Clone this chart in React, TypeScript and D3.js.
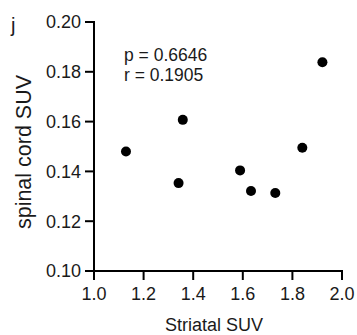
import React from "react";
import * as d3 from "d3";

const striatalSUV = [1.129, 1.341, 1.358, 1.589, 1.633, 1.731, 1.84, 1.921];
const spinalCordSUV = [0.148, 0.1353, 0.1607, 0.1404, 0.1321, 0.1313, 0.1495, 0.1838];
const xTicks = [1.0, 1.2, 1.4, 1.6, 1.8, 2.0];
const yTicks = [0.1, 0.12, 0.14, 0.16, 0.18, 0.2];
const statsLines = ["p = 0.6646", "r = 0.1905"];
const panelLabel = "j";
const xTitle = "Striatal SUV";
const yTitle = "spinal cord SUV";

export default function App() {
  const W = 357, H = 335;
  const left = 94, right = 342, top = 22, bottom = 271;
  const x = d3.scaleLinear().domain([1.0, 2.0]).range([left, right]);
  const y = d3.scaleLinear().domain([0.1, 0.2]).range([bottom, top]);
  const font = "'Liberation Sans', Arial, Helvetica, sans-serif";
  const textColor = "#1a1a1a";
  return (
    <svg width={W} height={H} style={{ position: "absolute", left: 0, top: 0, background: "#fff" }} fontFamily={font}>
      <text x={11} y={32} fontSize={20} fill={textColor}>{panelLabel}</text>
      {/* y axis */}
      <line x1={left} x2={left} y1={top - 1} y2={bottom + 1} stroke="#000" strokeWidth={2} />
      {yTicks.map((t) => (
        <g key={"y" + t}>
          <line x1={left - 9} x2={left} y1={y(t)} y2={y(t)} stroke="#000" strokeWidth={2} />
          <text x={left - 13} y={y(t)} dy="0.35em" textAnchor="end" fontSize={18} fill={textColor}>
            {d3.format(".2f")(t)}
          </text>
        </g>
      ))}
      {/* x axis */}
      <line x1={left - 1} x2={right + 1} y1={bottom} y2={bottom} stroke="#000" strokeWidth={2} />
      {xTicks.map((t) => (
        <g key={"x" + t}>
          <line x1={x(t)} x2={x(t)} y1={bottom} y2={bottom + 9} stroke="#000" strokeWidth={2} />
          <text x={x(t)} y={bottom + 29} textAnchor="middle" fontSize={18} fill={textColor}>
            {d3.format(".1f")(t)}
          </text>
        </g>
      ))}
      <text x={(left + right) / 2 - 4} y={331} textAnchor="middle" fontSize={18} fill={textColor}>{xTitle}</text>
      <text transform={`translate(31, 152) rotate(-90)`} textAnchor="middle" fontSize={21.5} fill={textColor}>{yTitle}</text>
      {statsLines.map((s, i) => (
        <text key={s} x={124} y={61 + i * 20} fontSize={17.5} fill={textColor}>{s}</text>
      ))}
      {striatalSUV.map((v, i) => (
        <circle key={i} cx={x(v)} cy={y(spinalCordSUV[i])} r={5} fill="#000" />
      ))}
    </svg>
  );
}
